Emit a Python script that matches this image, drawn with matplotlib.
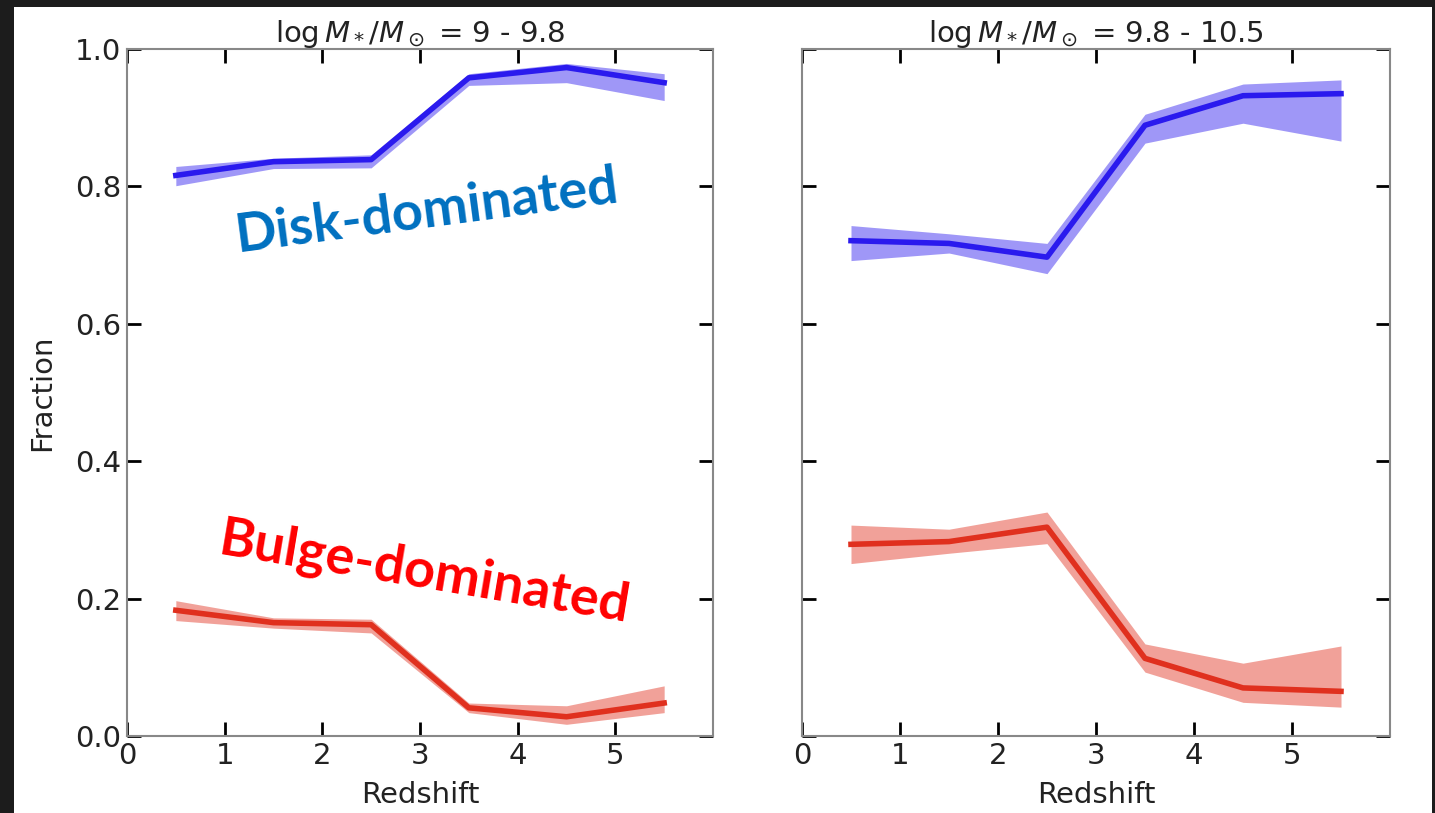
import numpy as np
import matplotlib
matplotlib.use("Agg")
import matplotlib.pyplot as plt
from matplotlib.patches import Rectangle

z = [0.5, 1.5, 2.5, 3.5, 4.5, 5.5]

# log M = 9 - 9.8
disk1 = [0.816, 0.836, 0.839, 0.958, 0.973, 0.951]
disk1_hi = [0.829, 0.841, 0.846, 0.964, 0.979, 0.964]
disk1_lo = [0.801, 0.826, 0.827, 0.947, 0.951, 0.925]
bulge1 = [0.183, 0.165, 0.162, 0.041, 0.028, 0.048]
bulge1_hi = [0.197, 0.172, 0.170, 0.048, 0.044, 0.073]
bulge1_lo = [0.168, 0.157, 0.150, 0.034, 0.017, 0.034]

# log M = 9.8 - 10.5
disk2 = [0.721, 0.717, 0.697, 0.889, 0.932, 0.935]
disk2_hi = [0.743, 0.731, 0.717, 0.905, 0.949, 0.955]
disk2_lo = [0.692, 0.703, 0.673, 0.863, 0.892, 0.866]
bulge2 = [0.279, 0.283, 0.304, 0.113, 0.070, 0.065]
bulge2_hi = [0.307, 0.301, 0.326, 0.134, 0.106, 0.131]
bulge2_lo = [0.251, 0.266, 0.280, 0.093, 0.049, 0.042]

titles = [r"$\log M_*/M_\odot$ = 9 - 9.8", r"$\log M_*/M_\odot$ = 9.8 - 10.5"]

blue = "#2a1aee"
red = "#e0301e"

fig = plt.figure(figsize=(14.35, 8.13), dpi=100, facecolor="#1c1c1c")
fig.patches.append(Rectangle((14/1435, 0), (1432-14)/1435, 1-7/813,
                             transform=fig.transFigure, facecolor="white",
                             edgecolor="none", zorder=-10))

ax1 = fig.add_axes([127/1435, 1-736/813, (713-127)/1435, (736-49)/813])
ax2 = fig.add_axes([802/1435, 1-736/813, (1390-802)/1435, (736-49)/813])

data = [(disk1, disk1_lo, disk1_hi, bulge1, bulge1_lo, bulge1_hi),
        (disk2, disk2_lo, disk2_hi, bulge2, bulge2_lo, bulge2_hi)]

for i, ax in enumerate([ax1, ax2]):
    d, dl, dh, b, bl, bh = data[i]
    ax.fill_between(z, dl, dh, color=blue, alpha=0.45, lw=0)
    ax.plot(z, d, color=blue, lw=4)
    ax.fill_between(z, bl, bh, color=red, alpha=0.45, lw=0)
    ax.plot(z, b, color=red, lw=4)
    ax.set_xlim(0, 6)
    ax.set_ylim(0, 1)
    ax.set_xticks([0, 1, 2, 3, 4, 5])
    ax.set_yticks([0, 0.2, 0.4, 0.6, 0.8, 1.0])
    ax.tick_params(direction="in", length=10, width=2, top=True, right=True,
                   labelsize=21, color="black", labelcolor="#222222", pad=4)
    for s in ax.spines.values():
        s.set_color("#888888")
        s.set_linewidth(1.5)
    ax.set_title(titles[i], fontsize=21, color="#222222", pad=5)
    ax.set_xlabel("Redshift", fontsize=21, color="#222222", labelpad=8)

ax1.set_ylabel("Fraction", fontsize=21, color="#222222", labelpad=14)
ax2.tick_params(labelleft=False)

ax1.text(3.07, 0.763, "Disk-dominated", fontsize=39,
         fontweight="bold", fontstyle="normal", family="Lato",
         color="#0070c0", rotation=7.5, ha="center", va="center",
         rotation_mode="anchor")
ax1.text(3.05, 0.237, "Bulge-dominated", fontsize=39,
         fontweight="bold", fontstyle="normal", family="Lato",
         color="#ff0000", rotation=-9.5, ha="center", va="center",
         rotation_mode="anchor")

fig.savefig("out.png", dpi=100, facecolor=fig.get_facecolor())
